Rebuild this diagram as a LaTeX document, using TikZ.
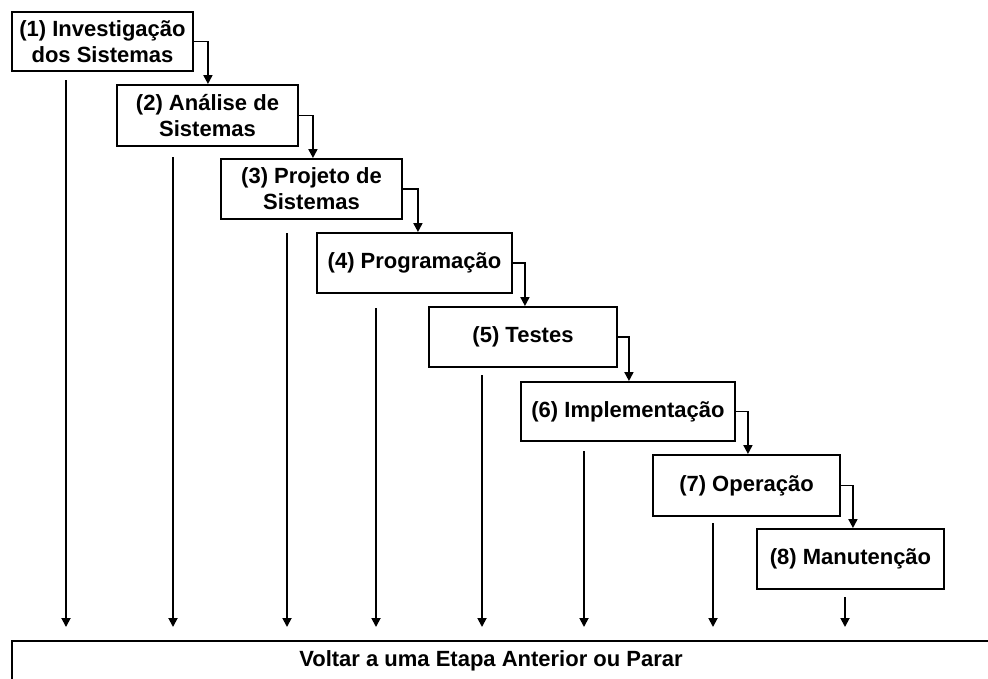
\documentclass[tikz,border=0pt]{standalone}
\usepackage{fontspec}
\setmainfont{Liberation Sans}
\usetikzlibrary{arrows.meta}
\begin{document}
\begin{tikzpicture}[x=1pt,y=-1pt,
  stage/.style={draw, line width=1.9pt, align=center, inner sep=0pt,
    font=\fontsize{22}{26}\selectfont\bfseries},
  flow/.style={line width=1.8pt, -{Triangle[width=9pt,length=9pt]}},
  back/.style={line width=1.8pt, -{Triangle[width=9pt,length=9pt]}}]
\useasboundingbox (0,0) rectangle (988,678);

% the eight phases, stepping down to the right
\node[stage, minimum width=181pt, minimum height=59pt] (b1) at (102.5,41.5) {(1) Investigação\\dos Sistemas};
\node[stage, minimum width=181pt, minimum height=61pt] (b2) at (207.5,115.5) {(2) Análise de\\Sistemas};
\node[stage, minimum width=181pt, minimum height=60pt] (b3) at (311.5,189) {(3) Projeto de\\Sistemas};
\node[stage, minimum width=195pt, minimum height=60pt] (b4) at (414.5,263) {(4) Programação};
\node[stage, minimum width=188pt, minimum height=60pt] (b5) at (523,337) {(5) Testes};
\node[stage, minimum width=214pt, minimum height=59pt] (b6) at (628,411.5) {(6) Implementação};
\node[stage, minimum width=187pt, minimum height=61pt] (b7) at (746.5,485.5) {(7) Operação};
\node[stage, minimum width=187pt, minimum height=60pt] (b8) at (850.5,559) {(8) Manutenção};

% bottom bar, running past the right and lower edges
\draw[line width=1.9pt] (12,690) -- (12,641) -- (1000,641);
\node[font=\fontsize{22}{26}\selectfont\bfseries] (stop) at (491,661) {Voltar a uma Etapa Anterior ou Parar};

% step-to-step connectors
\draw[flow] (b1.east) -- ++(14,0) coordinate (k1) -- (k1 |- b2.north);
\draw[flow] (b2.east) -- ++(14,0) coordinate (k2) -- (k2 |- b3.north);
\draw[flow] (b3.east) -- ++(15,0) coordinate (k3) -- (k3 |- b4.north);
\draw[flow] (b4.east) -- ++(12,0) coordinate (k4) -- (k4 |- b5.north);
\draw[flow] (b5.east) -- ++(11,0) coordinate (k5) -- (k5 |- b6.north);
\draw[flow] (b6.east) -- ++(12,0) coordinate (k6) -- (k6 |- b7.north);
\draw[flow] (b7.east) -- ++(12,0) coordinate (k7) -- (k7 |- b8.north);

% return arrows down to the bottom bar
\coordinate (r1) at (66,80);   \coordinate (e1) at (66,627);
\coordinate (r2) at (173,157); \coordinate (e2) at (173,627);
\coordinate (r3) at (287,233); \coordinate (e3) at (287,627);
\coordinate (r4) at (376,308); \coordinate (e4) at (376,627);
\coordinate (r5) at (482,375); \coordinate (e5) at (482,627);
\coordinate (r6) at (584,451); \coordinate (e6) at (584,627);
\coordinate (r7) at (713,523); \coordinate (e7) at (713,627);
\coordinate (r8) at (845,597); \coordinate (e8) at (845,627);
\foreach \i in {1,...,8} \draw[back] (r\i) -- (e\i);
\end{tikzpicture}
\end{document}
